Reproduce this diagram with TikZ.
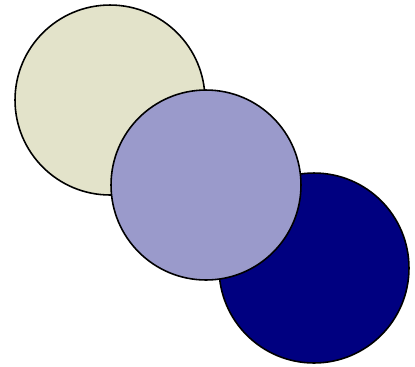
\documentclass[tikz,border=0pt]{standalone}
\usepackage{tikz}

\definecolor{beige}{HTML}{E3E3CA}
\definecolor{lavender}{HTML}{9A9ACB}
\definecolor{navyblue}{HTML}{000080}

\begin{document}
\begin{tikzpicture}[x=0.02cm,y=-0.02cm]
  \tikzset{disc/.style={draw=black,line width=0.9pt,circle,inner sep=0pt,minimum size=3.8cm}}
  \useasboundingbox (0,0) rectangle (415,366);
  \node[disc,fill=beige] (c1) at (110,100) {};
  \node[disc,fill=navyblue] (c3) at (314,268) {};
  \node[disc,fill=lavender] (c2) at (206,185) {};
\end{tikzpicture}
\end{document}
